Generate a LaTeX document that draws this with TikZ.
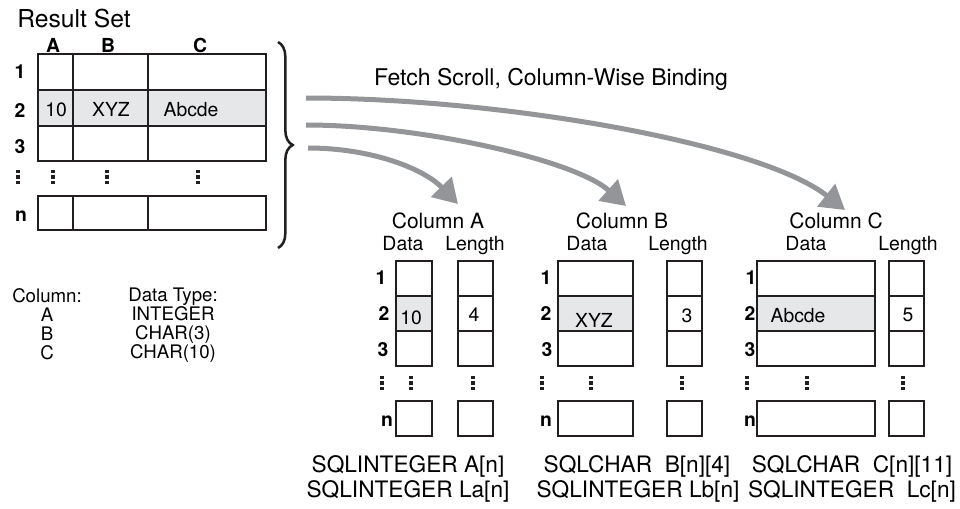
\documentclass[tikz,border=0pt]{standalone}
\usepackage{fontspec}
\setmainfont{TeX Gyre Heros}
\usetikzlibrary{arrows.meta,decorations.pathreplacing}
\definecolor{ink}{RGB}{35,31,32}
\definecolor{rowgray}{RGB}{230,231,232}
\definecolor{arrowgray}{RGB}{147,149,152}
% three square dots for the skipped rows
\newcommand{\skipdots}[2]{\foreach \k in {-1,0,1} {\fill[ink] ({#1-1.7},{#2+\k*5.5-1.7}) rectangle ({#1+1.7},{#2+\k*5.5+1.7});}}

\begin{document}
\begin{tikzpicture}[x=0.75pt,y=0.75pt,yscale=-1,xscale=1,
  lbl/.style={anchor=base,inner sep=0.75pt},
  rowlbl/.style={lbl,font=\fontsize{14.5}{16}\selectfont\bfseries},
  celltxt/.style={lbl,font=\fontsize{14.5}{17}\selectfont},
  grouptitle/.style={lbl,font=\fontsize{15.75}{18}\selectfont},
  subtitle/.style={lbl,font=\fontsize{14.6}{17}\selectfont},
  decl/.style={lbl,font=\fontsize{17}{20}\selectfont},
  legend/.style={anchor=north,inner sep=0.75pt,align=center,font=\fontsize{14}{14.25}\selectfont},
  cell/.style={draw=ink,line width=0.9pt},
  fetch/.style={draw=arrowgray,line width=3.75pt,-{Triangle[length=18pt,width=21pt]}},
  bracket/.style={draw=ink,line width=1.9pt,decorate,decoration={brace,amplitude=11pt}}]
\useasboundingbox (0,0) rectangle (960,508);

%Result set table
\fill[rowgray] (38,90) rectangle (266,126);
\foreach \ya/\yb in {54/90,90/126,126/161,196/230}{
  \foreach \xa/\xb in {38/73,73/148,148/266}{
    \draw[cell] (\xa,\ya) rectangle (\xb,\yb);
  }
}
\foreach \x in {18,53,107,198} {\skipdots{\x}{177}}
% Text Node
\draw (74,27) node [lbl,font=\fontsize{18.5}{21}\selectfont] (rstitle) {Result Set};
\draw (53,52) node [rowlbl] (hdA) {A};
\draw (108,52) node [rowlbl] (hdB) {B};
\draw (200,52) node [rowlbl] (hdC) {C};
\draw (20,78) node [rowlbl] (rs1) {1};
\draw (20,117) node [rowlbl] (rs2) {2};
\draw (20,153) node [rowlbl] (rs3) {3};
\draw (21,221) node [rowlbl] (rsn) {n};
\draw (56,116) node [celltxt] (rsA) {10};
\draw (111,116) node [celltxt] (rsB) {XYZ};
\draw (191,116) node [celltxt] (rsC) {Abcde};

%Brace
\coordinate (braceTop) at (278,42);
\coordinate (braceBot) at (278,248);
\draw[bracket] (braceTop) -- (braceBot);

% Text Node
\draw (551,85) node [lbl,font=\fontsize{17.25}{20}\selectfont] (fetchtitle) {Fetch Scroll, Column-Wise Binding};

%Fetch arrows
\coordinate (fromA) at (308,148);
\coordinate (toA) at (458,204);
\coordinate (fromB) at (306,125);
\coordinate (toB) at (626,206);
\coordinate (fromC) at (306,98);
\coordinate (toC) at (845,210);
\draw[fetch] (fromA) .. controls (370,148) and (423,168) .. (toA);
\draw[fetch] (fromB) .. controls (420,125) and (575,160) .. (toB);
\draw[fetch] (fromC) .. controls (500,98) and (760,143) .. (toC);

%Bound column arrays
\foreach \dl/\dr/\ll/\lr in {396/432/458/493,558/633/667/702,757/875/889/924}{
  \fill[rowgray] (\dl,296) rectangle (\dr,331);
  \foreach \ya/\yb in {261/296,296/331,331/366,401/436}{
    \draw[cell] (\dl,\ya) rectangle (\dr,\yb);
    \draw[cell] (\ll,\ya) rectangle (\lr,\yb);
  }
}
\foreach \x in {382,411,473,542,591,682,747,807,903} {\skipdots{\x}{383}}

% Text Node
\draw (438,228) node [grouptitle] (titleA) {Column A};
\draw (403,250) node [subtitle] (dataA) {Data};
\draw (475,250) node [subtitle] (lenA) {Length};
\draw (622,228) node [grouptitle] (titleB) {Column B};
\draw (587,250) node [subtitle] (dataB) {Data};
\draw (678,250) node [subtitle] (lenB) {Length};
\draw (836,228) node [grouptitle] (titleC) {Column C};
\draw (806,250) node [subtitle] (dataC) {Data};
\draw (908,250) node [subtitle] (lenC) {Length};
% Text Node
\draw (381,284) node [rowlbl] (a1) {1};
\draw (384,320) node [rowlbl] (a2) {2};
\draw (383,356) node [rowlbl] (a3) {3};
\draw (387,426) node [rowlbl] (an) {n};
\draw (546,284) node [rowlbl] (b1) {1};
\draw (546,320) node [rowlbl] (b2) {2};
\draw (547,356) node [rowlbl] (b3) {3};
\draw (546,426) node [rowlbl] (bn) {n};
\draw (751,284) node [rowlbl] (c1) {1};
\draw (750,320) node [rowlbl] (c2) {2};
\draw (750,356) node [rowlbl] (c3) {3};
\draw (750,426) node [rowlbl] (cn) {n};
% Text Node
\draw (411,324) node [celltxt] (valA) {10};
\draw (474,321) node [celltxt] (valLa) {4};
\draw (594,327) node [celltxt] (valB) {XYZ};
\draw (687,322) node [celltxt] (valLb) {3};
\draw (798,322) node [celltxt] (valC) {Abcde};
\draw (908,321) node [celltxt] (valLc) {5};
% Text Node
\draw (408,472) node [decl] (declA) {SQLINTEGER A[n]};
\draw (408,497) node [decl] (declLa) {SQLINTEGER La[n]};
\draw (637,472) node [decl] (declB) {SQLCHAR\ \ B[n][4]};
\draw (638,497) node [decl] (declLb) {SQLINTEGER Lb[n]};
\draw (852,472) node [decl] (declC) {SQLCHAR\ \ C[n][11]};
\draw (852,497) node [decl] (declLc) {SQLINTEGER\ \ Lc[n]};

%Legend
\draw (47,287) node [legend] (legCol) {Column:\\A\\B\\C};
\draw (173,287) node [legend] (legType) {Data Type:\\INTEGER\\CHAR(3)\\CHAR(10)};
\end{tikzpicture}
\end{document}
